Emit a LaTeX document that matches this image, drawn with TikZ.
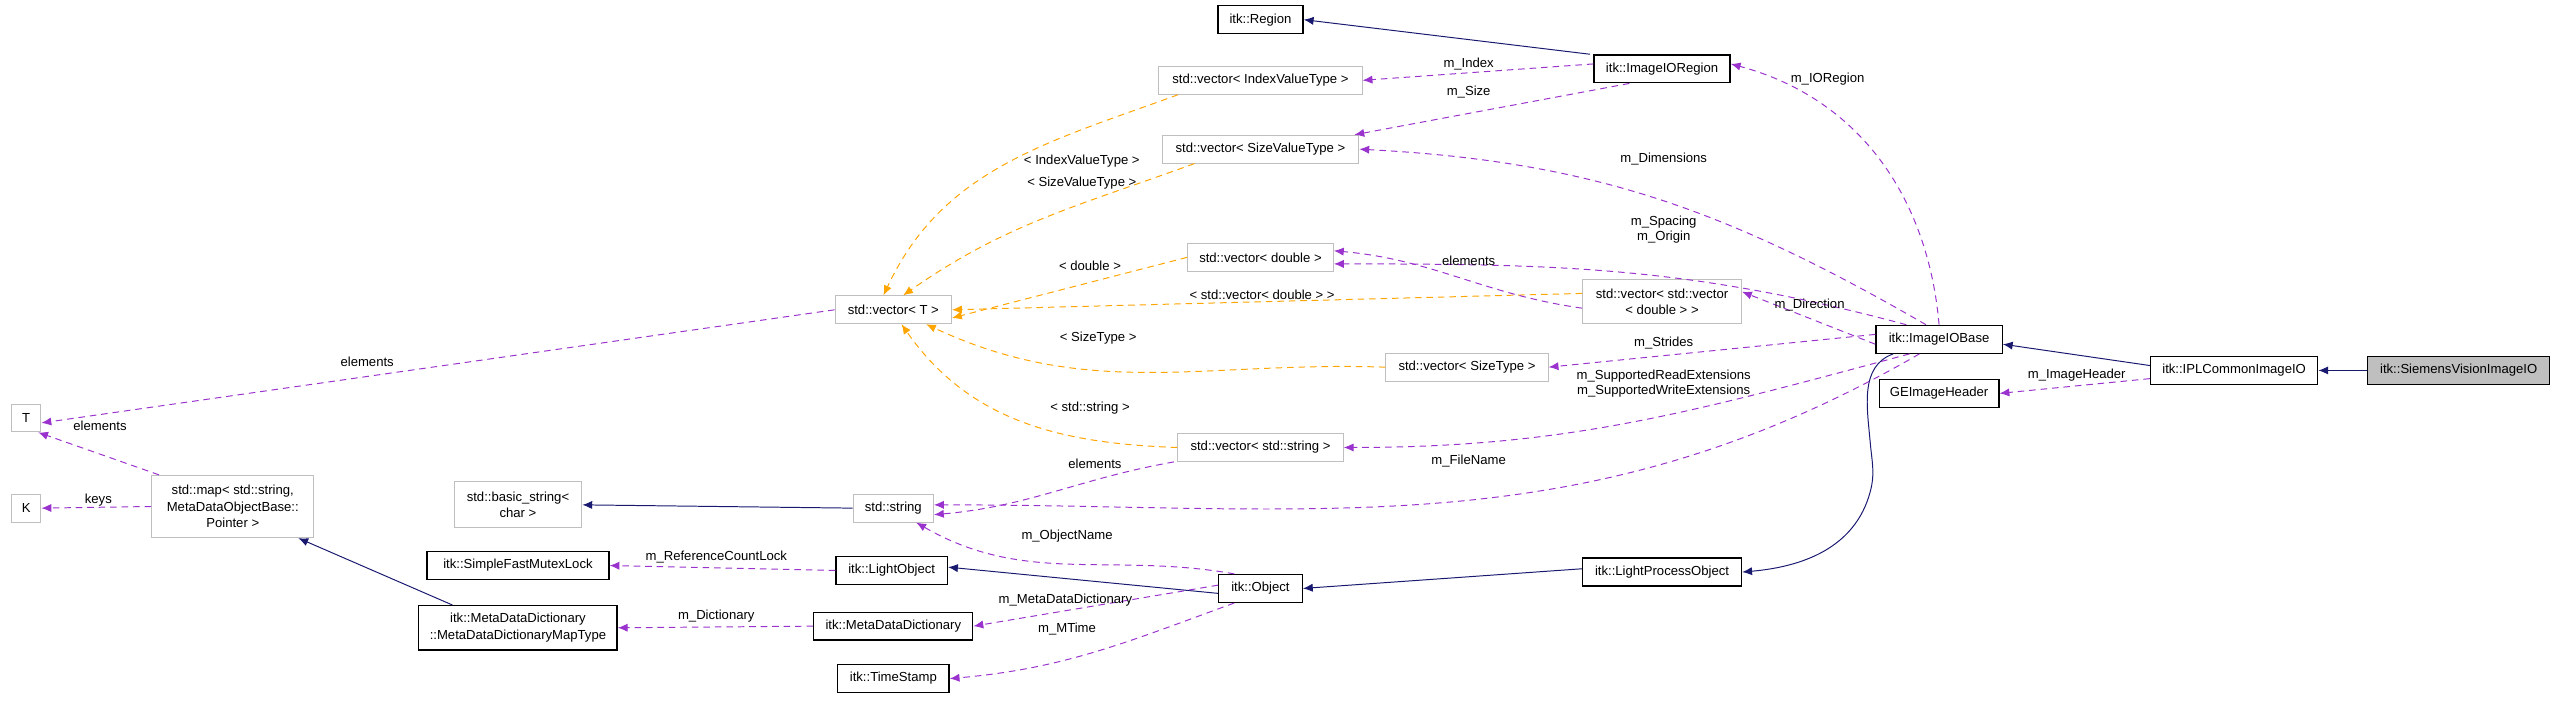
\documentclass[tikz,border=0pt]{standalone}
\usepackage{fontspec}
\setmainfont{Liberation Sans}
\usetikzlibrary{arrows.meta}
\definecolor{inhcol}{HTML}{191970}
\definecolor{usecol}{HTML}{9A32CD}
\definecolor{tplcol}{HTML}{FFA500}
\definecolor{grayfill}{HTML}{BFBFBF}
\definecolor{grayline}{HTML}{BFBFBF}
\tikzset{
  cls/.style={draw=black, line width=0.8pt, inner sep=2pt, minimum height=17pt, align=center, font=\fontsize{8}{10}\selectfont},
  ext/.style={cls, draw=grayline, line width=0.6pt},
  lbl/.style={font=\fontsize{8}{9.5}\selectfont, align=center, inner sep=1pt},
  inh/.style={draw=inhcol, line width=0.6pt, -{Latex[length=6pt,width=5pt]}},
  use/.style={draw=usecol, line width=0.6pt, dash pattern=on 4pt off 3pt, -{Latex[length=6pt,width=5pt]}},
  tpl/.style={draw=tplcol, line width=0.6pt, dash pattern=on 4pt off 3pt, -{Latex[length=6pt,width=5pt]}},
}
\begin{document}
\begin{tikzpicture}[x=1pt, y=-1pt]
\useasboundingbox (0,0) rectangle (1560,429);

% classes of the diagram
\node[cls, minimum width=52pt] (region) at (769,12) {itk::Region};
\node[cls, minimum width=83pt] (ioregion) at (1014,42) {itk::ImageIORegion};
\node[ext, minimum width=124pt] (vindex) at (769,49) {std::vector< IndexValueType >};
\node[ext, minimum width=120pt] (vsizeval) at (769,91) {std::vector< SizeValueType >};
\node[ext, minimum width=89pt] (vdouble) at (769,157) {std::vector< double >};
\node[ext, minimum width=97pt, minimum height=27pt] (vvecdouble) at (1014,184) {std::vector< std::vector\\< double > >};
\node[ext, minimum width=71pt] (vectort) at (545,189) {std::vector< T >};
\node[ext, minimum width=99pt] (vsizetype) at (895,224) {std::vector< SizeType >};
\node[cls, minimum width=77pt] (iobase) at (1183,207) {itk::ImageIOBase};
\node[cls, minimum width=102pt] (iplcommon) at (1363,226) {itk::IPLCommonImageIO};
\node[cls, minimum width=111pt, fill=grayfill] (siemens) at (1500,226) {itk::SiemensVisionImageIO};
\node[cls, minimum width=73pt] (geheader) at (1183,240) {GEImageHeader};
\node[ext, minimum width=101pt] (vstring) at (769,273) {std::vector< std::string >};
\node[ext, minimum width=18pt] (tparam) at (16,255) {T};
\node[ext, minimum width=18pt] (kparam) at (16,310) {K};
\node[ext, minimum width=99pt, minimum height=38pt] (stdmap) at (142,309) {std::map< std::string,\\ MetaDataObjectBase::\\Pointer >};
\node[ext, minimum width=78pt, minimum height=28pt] (basicstr) at (316,308) {std::basic\_string<\\char >};
\node[ext, minimum width=49pt] (stdstring) at (545,310) {std::string};
\node[cls, minimum width=111pt] (mutex) at (316,345) {itk::SimpleFastMutexLock};
\node[cls, minimum width=68pt] (lightobj) at (544,348) {itk::LightObject};
\node[cls, minimum width=97pt] (lightproc) at (1014,349) {itk::LightProcessObject};
\node[cls, minimum width=51pt] (object) at (769,359) {itk::Object};
\node[cls, minimum width=121pt, minimum height=27pt] (maptype) at (316,383) {itk::MetaDataDictionary\\::MetaDataDictionaryMapType};
\node[cls, minimum width=97pt] (metadict) at (545,382) {itk::MetaDataDictionary};
\node[cls, minimum width=68pt] (timestamp) at (545,414) {itk::TimeStamp};

% inheritance
\draw[inh] ([xshift=-2pt]ioregion.north west) -- (region.east);
\draw[inh] ([yshift=3pt]iplcommon.west) -- ([yshift=-3pt]iobase.east);
\draw[inh] (siemens.west) -- (iplcommon.east);
\draw[inh] ([xshift=-40pt]maptype.north) -- ([xshift=40pt]stdmap.south);
\draw[inh] (stdstring.west) -- (basicstr.east);
\draw[inh] ([yshift=-3pt]object.west) -- ([yshift=2pt]lightobj.east);
\draw[inh] ([yshift=2pt]lightproc.west) -- (object.east);
\draw[inh] ([xshift=-28pt]iobase.south) to[out=200,in=95] (1141,270) to[out=275,in=75] (1141,300) to[out=255,in=5] (lightproc.east);

% template instances
\draw[tpl] ([xshift=12pt]vindex.south west) to[out=200,in=65] ([xshift=-6pt]vectort.north);
\draw[tpl] ([xshift=20pt]vsizeval.south west) to[out=200,in=35] ([xshift=6pt]vectort.north);
\draw[tpl] (vdouble.west) -- ([yshift=-5pt]vectort.east);
\draw[tpl] ([yshift=5pt]vvecdouble.west) -- (vectort.east);
\draw[tpl] (vsizetype.west) to[out=178,in=-25] ([xshift=20pt]vectort.south);
\draw[tpl] (vstring.west) to[out=178,in=-55] ([xshift=5pt]vectort.south);
\node[lbl] (l1) at (660,98) {< IndexValueType >};
\node[lbl] (l2) at (660,112) {< SizeValueType >};
\node[lbl] (l3) at (665,162) {< double >};
\node[lbl] (l4) at (770,180) {< std::vector< double > >};
\node[lbl] (l5) at (670,206) {< SizeType >};
\node[lbl] (l6) at (665,249) {< std::string >};

% members
\draw[use] ([yshift=3pt]ioregion.west) -- (vindex.east);
\node[lbl] (l7) at (896,39) {m\_Index};
\draw[use] ([xshift=-20pt]ioregion.south) -- ([xshift=-3pt]vsizeval.north east);
\node[lbl] (l8) at (896,56) {m\_Size};
\draw[use] ([xshift=0pt]iobase.north) to[out=95,in=-15] ([yshift=3pt]ioregion.east);
\node[lbl] (l9) at (1115,48) {m\_IORegion};
\draw[use] ([xshift=-8pt]iobase.north) to[out=150,in=-3] (vsizeval.east);
\node[lbl] (l10) at (1015,97) {m\_Dimensions};
\draw[use] ([xshift=-20pt]iobase.north) to[out=165,in=0] ([yshift=-4pt]vdouble.east);
\node[lbl] (l11) at (1015,140) {m\_Spacing\\m\_Origin};
\draw[use] ([yshift=-4pt]vvecdouble.west) to[out=172,in=-5] ([yshift=4pt]vdouble.east);
\node[lbl] (l12) at (896,159) {elements};
\draw[use] ([yshift=-3pt]iobase.west) -- ([yshift=6pt]vvecdouble.east);
\node[lbl] (l13) at (1104,186) {m\_Direction};
\draw[use] ([yshift=3pt]iobase.west) -- (vsizetype.east);
\node[lbl] (l14) at (1015,209) {m\_Strides};
\draw[use] ([xshift=-18pt]iobase.south) to[out=195,in=0] (vstring.east);
\node[lbl] (l15) at (1015,234) {m\_SupportedReadExtensions\\m\_SupportedWriteExtensions};
\draw[use] ([xshift=-12pt]iobase.south) to[out=210,in=0] ([yshift=2pt]stdstring.east);
\node[lbl] (l16) at (896,281) {m\_FileName};
\draw[use] ([yshift=-5pt]iplcommon.west) -- (geheader.east);
\node[lbl] (l17) at (1267,229) {m\_ImageHeader};
\draw[use] (vectort.west) -- ([yshift=-3pt]tparam.east);
\node[lbl] (l18) at (224,221) {elements};
\draw[use] ([xshift=-45pt]stdmap.north) -- ([xshift=-2pt]tparam.south east);
\node[lbl] (l19) at (61,260) {elements};
\draw[use] (stdmap.west) -- (kparam.east);
\node[lbl] (l20) at (60,305) {keys};
\draw[use] ([xshift=-2pt]vstring.south west) to[out=190,in=5] ([yshift=-4pt]stdstring.east);
\node[lbl] (l21) at (668,283) {elements};
\draw[use] ([xshift=-16pt]object.north) to[out=170,in=-30] ([xshift=14pt]stdstring.south);
\node[lbl] (l22) at (651,327) {m\_ObjectName};
\draw[use] (lightobj.west) -- (mutex.east);
\node[lbl] (l23) at (437,340) {m\_ReferenceCountLock};
\draw[use] ([yshift=2pt]object.west) -- (metadict.east);
\node[lbl] (l24) at (650,366) {m\_MetaDataDictionary};
\draw[use] (metadict.west) -- (maptype.east);
\node[lbl] (l25) at (437,376) {m\_Dictionary};
\draw[use] ([xshift=-16pt]object.south) to[out=200,in=5] (timestamp.east);
\node[lbl] (l26) at (651,384) {m\_MTime};
\end{tikzpicture}
\end{document}
